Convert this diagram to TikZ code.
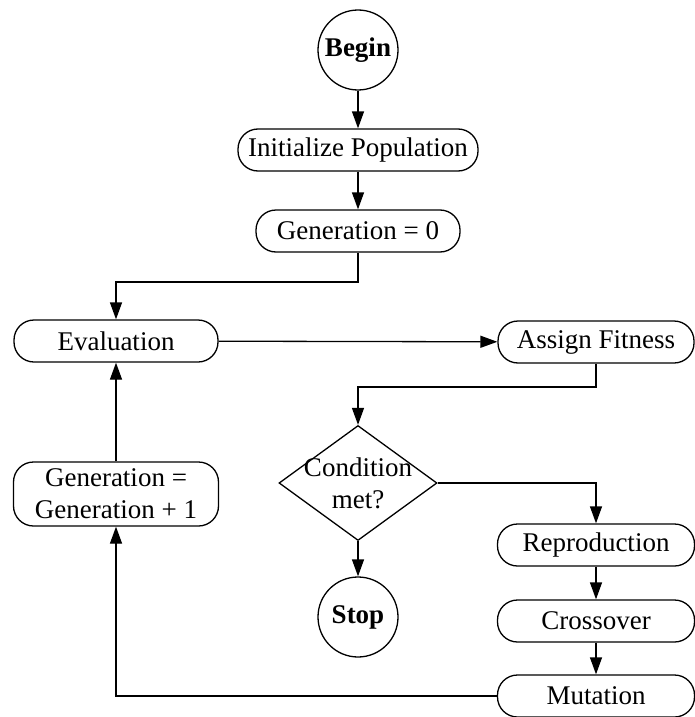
\documentclass[tikz,border=0pt]{standalone}
\usepackage{fontspec}
\setmainfont{Liberation Serif}
\usetikzlibrary{arrows.meta,shapes.geometric}
\newcommand{\flowfont}{\fontsize{27}{32}\selectfont}

\begin{document}
\begin{tikzpicture}[x=1pt,y=-1pt,
  box/.style={draw,line width=1.3pt,rounded corners=20pt,minimum height=42pt,inner sep=0pt,font=\flowfont,align=center},
  term/.style={draw,circle,line width=1.3pt,minimum size=80pt,inner sep=0pt,font=\flowfont\bfseries},
  decide/.style={draw,diamond,line width=1.3pt,minimum width=158pt,minimum height=115pt,inner sep=0pt},
  flow/.style={line width=1.3pt,-{Triangle[length=17pt,width=12pt]}}]
  \useasboundingbox (0,0) rectangle (694,717);
  \node[term] (begin) at (358,50) {Begin};
  \node[box,minimum width=240pt] (init) at (358,150) {Initialize Population};
  \node[box,minimum width=204pt] (gen0) at (358,231) {Generation = 0};
  \node[box,minimum width=204pt] (eval) at (116,341) {Evaluation};
  \node[box,minimum width=196pt] (assign) at (596,342) {Assign Fitness};
  \node[decide,label={[font=\flowfont,align=center]center:Condition\\met?}] (cond) at (358,483) {};
  \node[term] (stop) at (358,617) {Stop};
  \node[box,minimum width=205pt,minimum height=64pt] (gen1) at (116,494) {Generation =\\Generation + 1};
  \node[box,minimum width=197pt] (repro) at (596,545) {Reproduction};
  \node[box,minimum width=197pt] (cross) at (596,621) {Crossover};
  \node[box,minimum width=197pt] (mut) at (596,696) {Mutation};
  \coordinate (turnA) at (116,282);
  \coordinate (turnB) at (358,387);
  \draw[flow] (begin) -- (init);
  \draw[flow] (init) -- (gen0);
  \draw[flow] (gen0.south) |- (turnA) -- (eval.north);
  \draw[flow] (eval) -- (assign);
  \draw[flow] (assign.south) |- (turnB) -- (cond.north);
  \draw[flow] (cond.east) -| (repro.north);
  \draw[flow] (cond) -- (stop);
  \draw[flow] (repro) -- (cross);
  \draw[flow] (cross) -- (mut);
  \draw[flow] (mut.west) -| (gen1.south);
  \draw[flow] (gen1) -- (eval);
\end{tikzpicture}
\end{document}
